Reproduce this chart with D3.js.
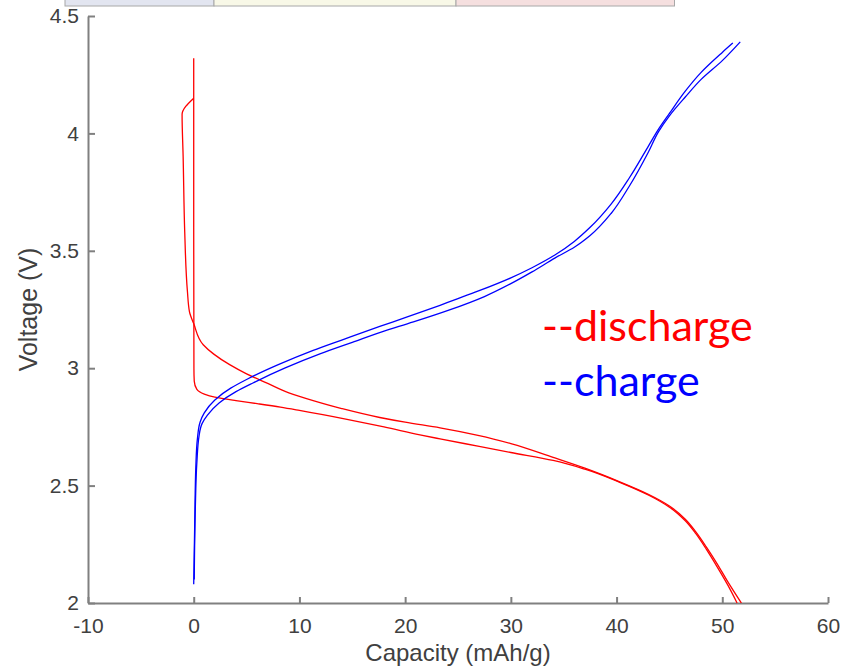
<!DOCTYPE html>
<html>
<head>
<meta charset="utf-8">
<script src="https://cdn.jsdelivr.net/npm/d3@7"></script>
<style>
  html, body { margin: 0; padding: 0; background: #fff; }
  svg { display: block; }
</style>
</head>
<body>
<svg id="chart"></svg>
<script>
// capacity (mAh/g), voltage (V) pairs
const dischargeA = [
  [0, 4.32], [0, 3.6], [0.02, 3.0], [0.05, 2.945], [0.3, 2.91], [1, 2.89], [2, 2.877],
  [4, 2.862], [6, 2.849], [8.2, 2.834], [10, 2.82], [14.5, 2.782], [18, 2.75],
  [21.4, 2.716], [23.3, 2.699], [27, 2.667], [30, 2.641], [34, 2.607], [37, 2.57],
  [40.3, 2.514], [43, 2.46], [45, 2.408], [46.5, 2.35], [47.5, 2.295], [48.5, 2.228],
  [49.5, 2.155], [50.5, 2.078], [51.4, 2.0]
];
const dischargeB = [
  [0, 4.15], [-1.1, 4.08], [-1.0, 3.9], [-0.85, 3.58], [-0.6, 3.33], [-0.4, 3.24],
  [0, 3.19], [0.9, 3.1], [1.9, 3.06], [3.4, 3.015], [5, 2.976], [7, 2.935], [9, 2.895],
  [11.3, 2.862], [14, 2.828], [17.6, 2.79], [20, 2.77], [23.3, 2.746], [27, 2.713],
  [30, 2.679], [34, 2.62], [37, 2.574], [40.3, 2.516], [43, 2.463], [45, 2.413],
  [46.5, 2.357], [47.5, 2.303], [48.5, 2.238], [49.5, 2.168], [50.5, 2.092], [51.8, 2.0]
];
const chargeA = [
  [0, 2.08], [0.1, 2.35], [0.2, 2.58], [0.35, 2.7], [0.6, 2.77], [1.0, 2.81], [2, 2.865],
  [3.5, 2.915], [5, 2.952], [8, 3.015], [11.3, 3.076], [14, 3.12], [17.6, 3.178],
  [20, 3.215], [23.3, 3.268], [27, 3.33], [30, 3.385], [32, 3.428], [34.2, 3.483],
  [36, 3.54], [37.5, 3.6], [39.5, 3.7], [41.2, 3.81], [43, 3.945], [44, 4.02],
  [45, 4.085], [46.5, 4.18], [48, 4.26], [50, 4.345], [51, 4.385]
];
const chargeB = [
  [0.05, 2.1], [0.15, 2.4], [0.3, 2.6], [0.5, 2.71], [0.8, 2.765], [1.3, 2.8],
  [2.4, 2.852], [4, 2.9], [5.6, 2.937], [8.6, 3.0], [12, 3.062], [15, 3.11],
  [18.5, 3.165], [21, 3.2], [24.2, 3.248], [27.5, 3.305], [30, 3.36], [32, 3.41],
  [34.2, 3.47], [36, 3.515], [37.5, 3.565], [39.5, 3.66], [41.2, 3.775], [43, 3.92],
  [44, 4.01], [45, 4.075], [46.5, 4.155], [48, 4.23], [50, 4.31], [51.7, 4.39]
];
const xTicks = [-10, 0, 10, 20, 30, 40, 50, 60];
const yTicks = [2, 2.5, 3, 3.5, 4, 4.5];
const legendItems = ["--discharge", "--charge"];
const bandColors = ["#e2e5f0", "#f8f8e7", "#f5dfdf"];

const width = 842, height = 669;
const margin = { top: 16, right: 14, bottom: 66, left: 88 };

const svg = d3.select("#chart")
  .attr("width", width)
  .attr("height", height);

// cropped toolbar strip at the very top
const bandEdges = [65, 214, 456, 674.5];
svg.append("g")
  .selectAll("rect")
  .data(bandColors)
  .join("rect")
  .attr("x", (d, i) => bandEdges[i])
  .attr("y", -10)
  .attr("width", (d, i) => bandEdges[i + 1] - bandEdges[i])
  .attr("height", 16)
  .attr("fill", d => d)
  .attr("stroke", "#a8a8a8")
  .attr("stroke-width", 1);

const x = d3.scaleLinear()
  .domain([-10, 60])
  .range([margin.left, width - margin.right]);

const y = d3.scaleLinear()
  .domain([2, 4.5])
  .range([height - margin.bottom, margin.top]);

const xAxis = svg.append("g")
  .attr("transform", `translate(0,${y(2)})`)
  .call(d3.axisBottom(x).tickValues(xTicks).tickFormat(d => String(d))
    .tickSizeInner(-6).tickSizeOuter(0).tickPadding(15));

const yAxis = svg.append("g")
  .attr("transform", `translate(${x(-10)},0)`)
  .call(d3.axisLeft(y).tickValues(yTicks).tickFormat(d => String(d))
    .tickSizeInner(-7).tickSizeOuter(0).tickPadding(9));

[xAxis, yAxis].forEach(g => {
  g.select(".domain").attr("stroke", "#808080").attr("stroke-width", 2);
  g.selectAll(".tick line").attr("stroke", "#808080").attr("stroke-width", 2);
  g.selectAll(".tick text")
    .attr("fill", "#404040")
    .style("font-family", "'Liberation Sans', Arial, sans-serif")
    .style("font-size", "21px");
});

svg.append("text")
  .attr("x", (x(-10) + x(60)) / 2)
  .attr("y", 661)
  .attr("text-anchor", "middle")
  .attr("fill", "#404040")
  .style("font-family", "'Liberation Sans', Arial, sans-serif")
  .style("font-size", "24px")
  .text("Capacity (mAh/g)");

svg.append("text")
  .attr("transform", `translate(37,${(y(2) + y(4.5)) / 2}) rotate(-90)`)
  .attr("text-anchor", "middle")
  .attr("fill", "#404040")
  .style("font-family", "'Liberation Sans', Arial, sans-serif")
  .style("font-size", "25px")
  .text("Voltage (V)");

// every series is monotone in voltage, so interpolate x as a function of y
const line = d3.line()
  .x(d => x(d[0]))
  .y(d => y(d[1]))
  .curve(d3.curveMonotoneY);

const series = [
  { data: dischargeA, color: "#ff0000" },
  { data: dischargeB, color: "#ff0000" },
  { data: chargeA, color: "#0000ff" },
  { data: chargeB, color: "#0000ff" }
];

svg.append("g")
  .attr("fill", "none")
  .selectAll("path")
  .data(series)
  .join("path")
  .attr("d", d => line(d.data))
  .attr("stroke", d => d.color)
  .attr("stroke-width", 1.3)
  .attr("stroke-linejoin", "round");

svg.append("g")
  .selectAll("text")
  .data(legendItems)
  .join("text")
  .attr("x", 542)
  .attr("y", (d, i) => 341 + i * 55)
  .attr("fill", (d, i) => i === 0 ? "#ff0000" : "#0000ff")
  .style("font-family", "Lato, 'Open Sans', sans-serif")
  .style("font-size", "43px")
  .text(d => d);
</script>
</body>
</html>
